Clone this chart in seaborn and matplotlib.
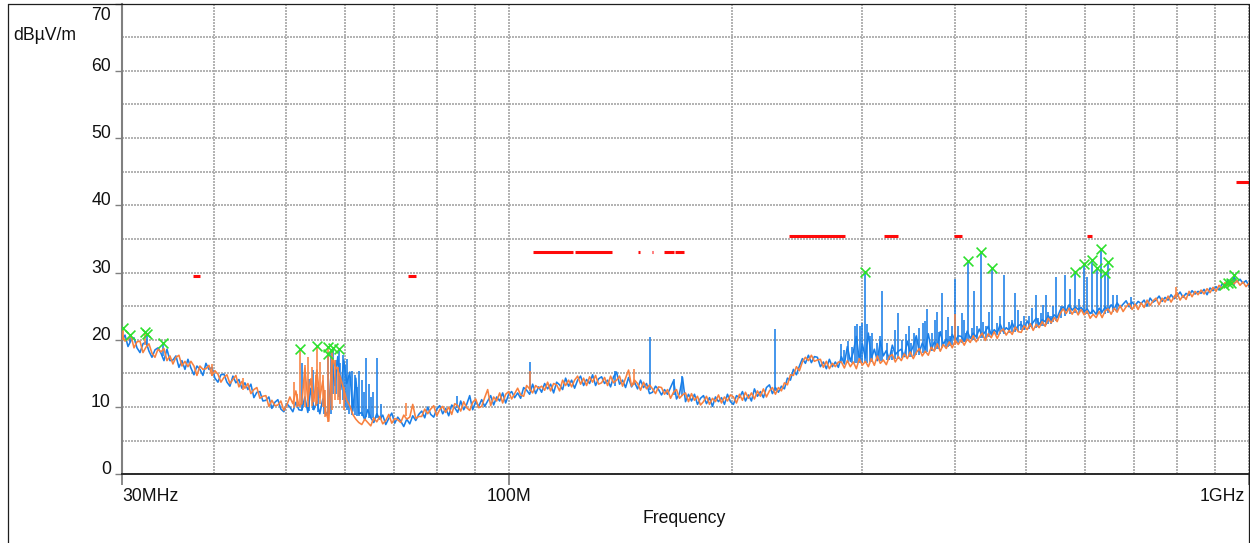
import numpy as np
import pandas as pd
import seaborn as sns
import matplotlib
matplotlib.use("Agg")
import matplotlib.pyplot as plt
import matplotlib.transforms as mtransforms
from matplotlib.lines import Line2D
from matplotlib.ticker import FixedLocator, NullFormatter

# ---------------------------------------------------------------------------
# Radiated emission scan, 30 MHz - 1 GHz (levels in dBuV/m)
# ---------------------------------------------------------------------------
f_start_mhz = 30.0
f_stop_mhz = 1000.0
n_sweep = 377

# Horizontal-polarisation trace (blue)
blue_level = [
    19.9, 20.7, 19.0, 19.9, 20.3, 18.8, 18.1, 19.4, 19.7, 18.3, 17.4, 18.5, 18.8, 18.0, 16.9, 18.6, 16.9, 17.0, 17.6, 15.9,
    16.9, 15.6, 17.1, 15.8, 14.8, 16.1, 15.6, 14.7, 16.5, 15.6, 15.9, 14.3, 13.7, 14.8, 14.9, 13.7, 13.1, 14.6, 13.6, 14.1,
    12.8, 13.6, 12.6, 13.4, 11.4, 12.2, 12.3, 10.9, 11.0, 11.5, 9.8, 10.7, 11.1, 9.7, 9.3, 10.5, 10.0, 9.3, 10.7, 9.6,
    9.5, 11.5, 9.2, 12.8, 9.6, 10.8, 9.0, 11.2, 8.8, 9.6, 16.8, 13.2, 17.5, 12.6, 17.0, 13.5, 15.2, 9.4, 14.3, 9.0,
    9.2, 8.1, 9.6, 8.4, 7.7, 9.0, 8.2, 8.8, 7.4, 8.3, 9.1, 7.6, 8.5, 7.9, 7.1, 8.2, 7.5, 8.7, 8.0, 8.9,
    9.4, 8.4, 10.0, 8.9, 8.5, 9.7, 10.2, 9.0, 9.8, 8.7, 10.3, 9.9, 9.2, 10.9, 9.6, 10.4, 11.7, 9.6, 10.8, 10.1,
    11.1, 10.1, 10.9, 11.7, 10.3, 11.5, 10.9, 12.1, 10.6, 11.9, 12.3, 11.4, 12.1, 11.3, 12.9, 12.5, 11.9, 13.4, 12.0, 13.0,
    12.2, 13.5, 12.7, 13.4, 12.1, 13.7, 13.3, 12.6, 14.3, 13.1, 14.0, 12.8, 14.0, 14.6, 13.2, 14.1, 13.5, 14.8, 13.2, 14.2,
    14.5, 13.5, 14.0, 13.0, 14.5, 15.2, 13.4, 14.0, 12.9, 14.4, 13.0, 13.7, 12.7, 14.0, 12.9, 13.5, 12.0, 12.2, 13.1, 12.6,
    11.8, 12.6, 11.9, 12.9, 13.9, 11.2, 12.0, 14.4, 10.8, 11.9, 10.9, 11.9, 10.4, 11.3, 11.7, 10.5, 11.4, 10.1, 11.5, 10.8,
    11.4, 10.4, 11.9, 10.8, 10.4, 11.7, 11.4, 12.3, 10.9, 11.8, 10.9, 12.7, 11.6, 12.3, 11.4, 12.9, 13.3, 12.0, 12.9, 12.2,
    13.1, 12.7, 14.3, 14.0, 15.6, 14.8, 16.1, 17.2, 16.5, 17.7, 16.6, 17.5, 17.4, 16.0, 16.7, 15.7, 17.1, 16.0, 16.7, 15.9,
    17.5, 16.4, 19.0, 16.8, 18.2, 20.5, 16.9, 19.4, 17.3, 21.0, 17.2, 18.6, 16.9, 19.8, 17.6, 18.4, 17.1, 19.2, 17.8, 18.3,
    18.6, 17.5, 19.8, 18.0, 19.1, 20.6, 18.2, 19.5, 18.6, 20.9, 18.5, 19.7, 19.0, 21.2, 19.3, 20.1, 19.5, 20.8, 19.8, 20.6,
    20.5, 19.8, 21.3, 20.2, 21.0, 20.4, 21.6, 20.6, 21.2, 22.0, 20.8, 21.5, 21.0, 22.3, 21.2, 21.8, 21.4, 22.5, 21.5, 22.1,
    22.3, 21.6, 22.8, 22.0, 22.6, 23.2, 22.3, 23.0, 22.7, 23.6, 22.9, 23.7, 23.3, 24.4, 24.9, 24.3, 25.2, 24.4, 24.9, 24.5,
    24.8, 24.2, 24.6, 23.9, 24.4, 23.8, 24.7, 24.1, 24.9, 24.4, 25.2, 24.6, 25.5, 24.8, 25.3, 25.8, 24.9, 25.6, 25.1, 25.7,
    25.4, 25.9, 25.0, 26.2, 25.6, 25.9, 26.5, 25.7, 26.3, 25.9, 26.7, 26.1, 26.5, 27.1, 26.3, 26.9, 26.6, 27.3, 26.8, 27.2,
    26.9, 27.5, 26.7, 27.7, 27.3, 27.9, 27.4, 28.3, 28.0, 28.9, 28.4, 29.3, 28.6, 29.0, 28.4, 28.8, 28.0,
]

# Vertical-polarisation trace (orange)
orange_level = [
    20.8, 19.8, 20.1, 20.6, 18.8, 19.7, 19.8, 18.1, 18.9, 19.4, 18.0, 17.4, 18.6, 18.2, 18.7, 16.9, 17.6, 16.4, 17.4, 17.7,
    16.1, 16.8, 16.0, 16.8, 16.1, 14.7, 16.1, 15.6, 15.7, 16.2, 14.7, 15.4, 14.9, 13.7, 14.4, 14.8, 13.5, 14.1, 14.7, 13.0,
    13.8, 12.8, 13.5, 12.0, 12.6, 12.9, 11.3, 11.6, 11.7, 10.1, 11.0, 10.2, 10.3, 10.9, 9.5, 10.3, 11.5, 10.5, 12.4, 10.2,
    10.5, 15.8, 11.0, 14.2, 10.8, 15.5, 11.4, 13.9, 9.2, 7.9, 17.5, 16.2, 15.5, 14.2, 12.6, 11.0, 10.2, 8.9, 8.2, 7.7,
    7.4, 8.2, 7.7, 7.2, 8.4, 7.8, 8.6, 7.5, 8.0, 8.9, 7.6, 8.3, 8.1, 7.7, 8.8, 8.2, 8.5, 10.4, 8.3, 8.6,
    8.6, 9.7, 9.0, 9.7, 10.2, 8.7, 9.6, 10.1, 9.2, 10.0, 8.9, 10.5, 10.2, 9.4, 10.8, 9.9, 9.5, 10.7, 11.2, 9.9,
    10.1, 11.4, 12.6, 10.2, 11.5, 10.9, 12.1, 10.6, 11.9, 12.3, 11.2, 12.0, 12.8, 11.8, 11.6, 13.2, 12.7, 12.1, 13.2, 12.8,
    13.1, 12.5, 13.7, 12.4, 13.5, 13.3, 12.4, 14.0, 13.2, 14.0, 13.0, 14.0, 14.6, 13.4, 14.3, 13.2, 14.5, 13.7, 14.7, 13.4,
    13.6, 14.4, 13.2, 14.6, 13.6, 14.0, 14.6, 13.1, 14.3, 15.5, 13.1, 14.0, 13.5, 12.5, 13.7, 12.7, 13.3, 12.7, 12.0, 13.0,
    12.9, 11.9, 12.6, 11.3, 12.2, 12.6, 11.3, 11.8, 12.1, 10.8, 12.0, 11.0, 11.6, 10.3, 10.8, 11.6, 10.4, 11.3, 10.8, 11.8,
    10.6, 11.5, 10.9, 11.8, 11.5, 10.6, 11.9, 11.0, 12.2, 11.3, 12.1, 11.2, 12.4, 11.6, 12.7, 11.5, 12.4, 12.9, 11.9, 12.9,
    12.4, 13.6, 13.3, 14.8, 14.7, 16.0, 15.4, 16.7, 17.4, 16.9, 17.7, 16.8, 17.0, 17.1, 15.9, 16.8, 15.7, 16.5, 16.0, 16.7,
    16.7, 15.8, 16.9, 16.0, 16.7, 15.7, 17.2, 16.2, 16.8, 16.0, 17.2, 16.2, 17.6, 16.5, 17.0, 16.3, 17.5, 17.8, 16.7, 17.5,
    16.9, 17.9, 17.2, 18.2, 17.2, 18.1, 18.7, 17.6, 18.3, 17.7, 18.9, 18.3, 19.4, 18.3, 19.3, 18.7, 19.7, 18.8, 19.9, 19.3,
    20.0, 19.2, 20.1, 19.6, 20.6, 19.7, 20.4, 21.0, 19.9, 20.9, 20.3, 21.2, 20.2, 21.2, 21.6, 20.7, 21.4, 20.8, 21.9, 21.2,
    21.1, 22.1, 21.5, 22.4, 21.4, 22.3, 21.8, 22.7, 22.0, 23.2, 22.5, 23.3, 22.7, 23.9, 24.6, 23.9, 24.7, 23.8, 24.6, 23.7,
    24.5, 23.7, 24.3, 23.2, 23.8, 23.3, 24.2, 23.3, 24.3, 24.6, 23.8, 24.7, 24.1, 25.1, 24.2, 24.9, 25.4, 24.5, 25.3, 24.5,
    25.5, 24.8, 25.9, 25.1, 25.8, 26.2, 25.2, 26.2, 25.6, 26.5, 25.6, 26.4, 27.0, 25.9, 26.6, 26.0, 27.2, 26.4, 27.2, 26.7,
    27.4, 26.8, 27.6, 27.0, 27.8, 27.2, 28.1, 27.6, 28.5, 28.0, 28.9, 28.3, 28.8, 28.1, 28.6, 27.9, 28.4,
]

# Narrow-band emissions on the blue trace: frequency, floor and peak
blue_spike_mhz = [
    30.8, 32.4, 34.1,
    52.6, 53.6, 54.3, 55.2, 56.2, 56.9, 57.4, 57.8, 58.3, 58.9, 59.2, 59.6, 60.0, 60.4, 60.7,
    61.3, 61.9, 62.3, 62.7, 63.3, 63.6, 64.0, 64.6, 65.0, 65.6, 66.3, 67.1,
    85.2, 106.9, 139.3, 155.2, 167.3, 171.5, 228.9,
    281.1, 283.7, 287.2, 290.8, 293.6, 295.4, 298.1, 300.0, 302.8, 304.7, 307.6, 309.5, 314.3,
    319.3, 324.2, 329.4, 335.6, 339.7, 344.0, 349.4, 352.6, 358.1, 362.6, 367.2, 372.9, 376.4,
    378.7, 384.6, 389.4, 394.3, 400.5, 404.3, 409.4, 414.5, 417.0, 422.2, 424.8, 428.9, 434.2,
    441.0, 449.3, 456.4, 466.4, 473.7, 482.6, 491.7, 504.1, 515.2, 523.3, 531.5, 539.8, 548.2,
    556.8, 563.8, 572.6, 581.8, 589.0, 598.0, 603.6, 613.0, 623.0, 630.7, 638.0, 645.0, 654.3,
    662.5, 692.2, 953.0,
    316.8, 332.0, 347.0, 355.0, 365.0, 381.0, 392.0, 397.5, 411.8, 437.0, 445.0, 461.0, 478.0,
    487.0, 497.0, 509.0, 519.0, 527.0, 535.5, 544.0,
]
blue_spike_floor = [
    19.6, 19.0, 17.6,
    9.6, 9.4, 9.5, 9.2, 9.0, 8.6, 9.0, 12.0, 12.0, 11.5, 11.0, 11.0, 10.0, 9.5, 9.0,
    8.8, 8.8, 8.6, 8.6, 8.6, 8.5, 8.5, 8.4, 8.4, 8.3, 8.3, 8.2,
    9.8, 12.4, 13.2, 12.6, 11.8, 11.6, 12.4,
    16.5, 16.5, 16.5, 16.5, 16.5, 16.5, 16.5, 16.6, 16.6, 16.6, 16.7, 16.7, 16.8,
    16.8, 17.0, 17.0, 17.2, 17.3, 17.4, 17.5, 17.6, 17.8, 18.0, 18.2, 18.4, 18.5,
    18.6, 18.8, 19.0, 19.1, 19.3, 19.4, 19.5, 19.7, 19.8, 19.9, 20.0, 20.1, 20.2,
    20.3, 20.5, 20.7, 20.9, 21.0, 21.2, 21.4, 21.6, 21.8, 22.0, 22.2, 22.4, 22.8,
    23.2, 23.6, 23.9, 24.0, 24.0, 24.0, 23.9, 23.8, 23.8, 23.8, 23.9, 24.0, 24.1,
    24.2, 24.6, 28.0,
    16.8, 17.2, 17.4, 17.7, 18.1, 18.7, 19.0, 19.2, 19.6, 20.2, 20.4, 20.8, 21.1,
    21.3, 21.5, 21.7, 21.9, 22.1, 22.3, 22.6,
]
blue_spike_peak = [
    20.7, 20.9, 19.5,
    16.5, 14.2, 15.5, 13.0, 12.5, 17.9, 18.6, 18.8, 17.0, 18.7, 16.5, 17.8, 16.2, 17.2, 14.5,
    15.4, 14.8, 13.0, 15.3, 14.0, 12.2, 17.3, 13.5, 11.5, 12.2, 17.3, 10.5,
    11.7, 16.7, 15.4, 20.4, 14.2, 14.6, 21.6,
    19.4, 18.5, 19.8, 19.0, 22.0, 22.3, 22.0, 22.5, 30.1, 22.3, 20.5, 21.0, 19.5,
    27.2, 19.5, 18.5, 24.0, 20.0, 20.8, 19.5, 21.0, 21.8, 22.5, 24.6, 21.0, 23.0,
    24.1, 26.9, 21.5, 20.5, 29.0, 22.0, 24.0, 21.0, 31.7, 21.8, 27.2, 22.0, 33.0,
    22.0, 30.7, 22.5, 29.6, 22.6, 26.9, 22.8, 23.5, 26.6, 24.0, 26.7, 23.5, 29.3,
    25.0, 29.6, 27.5, 30.1, 26.1, 31.2, 29.4, 31.9, 30.7, 33.5, 30.0, 31.5, 26.6,
    26.7, 26.4, 29.7,
    20.6, 21.4, 22.0, 20.3, 22.8, 21.2, 23.4, 22.1, 23.0, 22.6, 24.2, 23.5, 22.9,
    24.4, 23.6, 24.8, 23.3, 25.2, 24.1, 25.0,
]

# Narrow-band emissions on the orange trace
orange_spike_mhz = [
    30.1, 32.2, 39.7, 43.7,
    51.2, 51.7, 52.2, 53.0, 53.5, 54.1, 54.8, 55.0, 55.5, 56.0, 56.5, 56.9, 57.6, 58.2, 58.7, 59.2, 59.8,
    72.5, 106.9, 147.7, 400.5, 798.0,
]
orange_spike_floor = [
    20.0, 19.2, 14.6, 12.6,
    9.9, 10.0, 10.0, 10.0, 10.0, 10.2, 10.2, 10.5, 10.4, 10.0, 8.5, 7.8, 9.5, 11.0, 11.0, 10.5, 9.5,
    8.6, 12.6, 13.3, 19.2, 26.0,
]
orange_spike_peak = [
    21.8, 21.2, 16.4, 14.3,
    13.7, 12.0, 18.7, 16.2, 17.5, 16.0, 14.8, 19.1, 16.7, 14.7, 12.5, 18.9, 18.4, 17.0, 16.0, 14.5, 13.0,
    10.6, 15.3, 15.7, 23.8, 27.8,
]

# Peak-search markers
marker_mhz = [30.1, 30.8, 32.2, 32.4, 34.1, 52.2, 55.0, 56.9, 56.9, 57.8, 58.9,
              302.8, 417.0, 434.2, 449.3, 581.8, 598.0, 613.0, 623.0, 630.7, 638.0, 645.0,
              924.0, 938.0, 946.0, 953.0]
marker_level = [21.8, 20.7, 21.2, 20.9, 19.5, 18.7, 19.1, 18.9, 17.9, 18.8, 18.7,
                30.1, 31.7, 33.0, 30.7, 30.1, 31.2, 31.9, 30.7, 33.5, 30.0, 31.5,
                28.2, 28.5, 28.4, 29.7]

# Quasi-peak results over their measurement spans
qp_start_mhz = [37.4, 73.0, 107.9, 123.0, 149.6, 156.2, 162.1, 167.8, 239.0, 321.0, 399.0, 605.0, 959.0]
qp_stop_mhz = [38.2, 75.0, 121.9, 137.9, 150.2, 156.7, 167.3, 172.5, 284.6, 335.6, 409.0, 613.0, 1000.0]
qp_level = [29.5, 29.5, 33.0, 33.0, 33.0, 33.0, 33.0, 33.0, 35.5, 35.5, 35.5, 35.5, 43.5]

x_tick_mhz = [30, 100, 1000]
x_tick_labels = ["30MHz", "100M", "1GHz"]
y_ticks = [0, 10, 20, 30, 40, 50, 60, 70]

BLUE = "#1a7fe8"
ORANGE = "#f8813f"
GREEN = "#2ee02e"
RED = "#ff0a0a"

# ---------------------------------------------------------------------------
sns.set_theme(style="white")
plt.rcParams["font.family"] = ["Liberation Sans", "DejaVu Sans"]

W, H = 1250, 543
fig = plt.figure(figsize=(W / 100, H / 100), dpi=100)
ax_left, ax_right, ax_top, ax_bottom = 122, 1249, 3.5, 474.3
ax = fig.add_axes([ax_left / W, 1 - ax_bottom / H, (ax_right - ax_left) / W, (ax_bottom - ax_top) / H])
ax.set_xscale("log")

sweep_mhz = np.geomspace(f_start_mhz, f_stop_mhz, n_sweep)
scan = pd.DataFrame({"freq": sweep_mhz, "blue": blue_level, "orange": orange_level})

sns.lineplot(data=scan, x="freq", y="blue", ax=ax, color=BLUE, linewidth=1.15,
             estimator=None, sort=False, zorder=2)
ax.vlines(blue_spike_mhz, blue_spike_floor, blue_spike_peak, colors=BLUE, linewidth=1.15, zorder=2)

sns.lineplot(data=scan, x="freq", y="orange", ax=ax, color=ORANGE, linewidth=1.15,
             estimator=None, sort=False, zorder=3)
ax.vlines(orange_spike_mhz, orange_spike_floor, orange_spike_peak, colors=ORANGE, linewidth=1.15, zorder=3)

ax.hlines(qp_level, qp_start_mhz, qp_stop_mhz, colors=RED, linewidth=2.2, zorder=4)

sns.scatterplot(x=marker_mhz, y=marker_level, ax=ax, marker="x", s=50, color=GREEN,
                linewidth=1.2, zorder=6)

ax.set_xlim(f_start_mhz, f_stop_mhz)
ax.set_ylim(0, 70)
ax.set_xlabel("")
ax.set_ylabel("")

# grid: every 10 MHz step on x, every 5 dB on y
ax.xaxis.set_major_locator(FixedLocator(x_tick_mhz))
ax.set_xticklabels(x_tick_labels)
minor_x = [40, 50, 60, 70, 80, 90, 200, 300, 400, 500, 600, 700, 800, 900]
ax.xaxis.set_minor_locator(FixedLocator(minor_x))
ax.xaxis.set_minor_formatter(NullFormatter())
ax.set_yticks(y_ticks)
ax.yaxis.set_minor_locator(FixedLocator([5, 15, 25, 35, 45, 55, 65]))

grid_kw = dict(color="#a6a6a6", linewidth=1.2, linestyle=(0, (1.2, 0.6)))
ax.grid(True, which="both", axis="both", **grid_kw)
ax.set_axisbelow(True)

ax.tick_params(axis="x", which="major", length=8, width=1.3, color="#808080", pad=2,
               labelsize=12.7, labelcolor="#111111", direction="out", bottom=True)
ax.tick_params(axis="x", which="minor", length=0)
ax.tick_params(axis="y", which="major", length=5, width=1.0, color="#808080", pad=3,
               labelsize=12.7, labelcolor="#111111", direction="out", left=True)
ax.tick_params(axis="y", which="minor", length=0)

for side in ("top", "right"):
    ax.spines[side].set_visible(False)
ax.spines["left"].set_color("#808080")
ax.spines["left"].set_linewidth(1.5)
ax.spines["bottom"].set_color("#2a2a2a")
ax.spines["bottom"].set_linewidth(1.4)

# tick label placement
xl = ax.get_xticklabels()
xl[0].set_horizontalalignment("left")
xl[2].set_horizontalalignment("right")
xl[2].set_transform(xl[2].get_transform() + mtransforms.ScaledTranslation(-4 / 100, 0, fig.dpi_scale_trans))
for lab in ax.get_yticklabels():
    lab.set_verticalalignment("baseline")
yl = ax.get_yticklabels()
yl[-1].set_verticalalignment("top")
yl[-1].set_transform(yl[-1].get_transform() + mtransforms.ScaledTranslation(0, -3 / 100, fig.dpi_scale_trans))

fig.text(13 / W, 1 - 39.5 / H, "dBµV/m", ha="left", va="baseline", fontsize=12.7, color="#111111")
fig.text(683.7 / W, 1 - 523.3 / H, "Frequency", ha="center", va="baseline", fontsize=12.7, color="#111111")

# outer frame
frame_kw = dict(color="#1e1e1e", linewidth=0.9, transform=fig.transFigure)
fig.add_artist(Line2D([7.5 / W, 7.5 / W], [0, 1 - 3.5 / H], **frame_kw))
fig.add_artist(Line2D([7.5 / W, 1249 / W], [1 - 3.5 / H, 1 - 3.5 / H], **frame_kw))
fig.add_artist(Line2D([1249 / W, 1249 / W], [0, 1 - 3.5 / H], **frame_kw))

fig.savefig("out.png", dpi=100)
